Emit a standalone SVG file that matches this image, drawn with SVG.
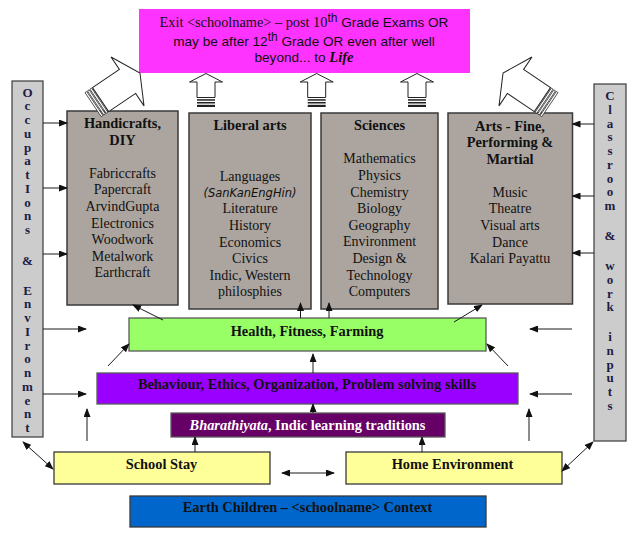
<svg xmlns="http://www.w3.org/2000/svg" xmlns:xlink="http://www.w3.org/1999/xlink" width="637" height="535" viewBox="0 0 637 535">
<style>
.box{stroke:#3a3a3a;stroke-width:1.5}
.gray{fill:#aca59f}
.side{fill:#cccccc;stroke:#3a3a3a;stroke-width:1.2}
.t{font-family:"Liberation Serif","Times New Roman",serif;font-size:14px;fill:#111;text-anchor:middle}
.h{font-family:"Liberation Serif","Times New Roman",serif;font-size:14.4px;font-weight:bold;fill:#111;text-anchor:middle}
.vt{font-family:"Liberation Serif","Times New Roman",serif;font-size:13px;font-weight:bold;fill:#1c1c45;text-anchor:middle}
.s{font-family:"Liberation Sans",Arial,sans-serif;font-size:13.6px}
.sup{font-family:"Liberation Sans",Arial,sans-serif;font-size:12px}
.c{stroke:#1a1a1a;stroke-width:1;fill:none}
.bk{fill:#fff;stroke:#222;stroke-width:1}
.st{fill:#fff;stroke:#222;stroke-width:0.7}
</style>
<defs>
<marker id="ah" markerUnits="userSpaceOnUse" markerWidth="9" markerHeight="7" refX="8" refY="3.5" orient="auto-start-reverse" viewBox="0 0 9 7">
<path d="M0,0 L9,3.5 L0,7 z" fill="#111"/>
</marker>
<g id="tilt">
<rect x="0.5" y="-14.5" width="2" height="29" class="st"/>
<rect x="3.5" y="-14.5" width="2" height="29" class="st"/>
<rect x="6.5" y="-14.5" width="2" height="29" class="st"/>
<polygon points="9.5,-14.5 42,-14.5 42,-29.5 57,0 42,29.5 42,14.5 9.5,14.5" class="bk"/>
</g>
<g id="up">
<polygon points="-9,97.5 -9,82 -16.5,82 0,73.5 16.5,82 9,82 9,97.5" class="bk"/>
<rect x="-9" y="99.2" width="18" height="1.5" fill="#222"/>
<rect x="-9" y="102" width="18" height="1.5" fill="#222"/>
<rect x="-9" y="104.8" width="18" height="2.2" fill="#222"/>
</g>
</defs>
<rect width="637" height="535" fill="#fff"/>

<g id="exit">
<rect x="139" y="9" width="331" height="64" fill="#ff33ff"/>
<text class="t" x="304" y="26.7" style="font-size:14.3px"><tspan>Exit &lt;schoolname&gt; – post 10</tspan><tspan class="sup" dy="-4.5">th</tspan><tspan class="s" dy="4.5"> Grade Exams OR</tspan></text>
<text class="t s" x="304" y="45.5"><tspan>may be after 12</tspan><tspan class="sup" dy="-4.5">th</tspan><tspan dy="4.5"> Grade OR even after well</tspan></text>
<text class="t" x="304" y="62"><tspan class="s">beyond... to </tspan><tspan font-weight="bold" font-style="italic" style="font-size:14.5px">Life</tspan></text>
</g>

<g id="occupations">
<rect x="12" y="81" width="31" height="356" class="side"/>
<text class="vt"><tspan x="27.5" y="96.5">O</tspan><tspan x="27.5" y="110.25">c</tspan><tspan x="27.5" y="124">c</tspan><tspan x="27.5" y="137.75">u</tspan><tspan x="27.5" y="151.5">p</tspan><tspan x="27.5" y="165.25">a</tspan><tspan x="27.5" y="179">t</tspan><tspan x="27.5" y="192.75">I</tspan><tspan x="27.5" y="206.5">o</tspan><tspan x="27.5" y="220.25">n</tspan><tspan x="27.5" y="234">s</tspan><tspan x="27.5" y="264.5">&amp;</tspan><tspan x="27.5" y="294.5">E</tspan><tspan x="27.5" y="308.25">n</tspan><tspan x="27.5" y="322">v</tspan><tspan x="27.5" y="335.75">I</tspan><tspan x="27.5" y="349.5">r</tspan><tspan x="27.5" y="363.25">o</tspan><tspan x="27.5" y="377">n</tspan><tspan x="27.5" y="390.75">m</tspan><tspan x="27.5" y="404.5">e</tspan><tspan x="27.5" y="418.25">n</tspan><tspan x="27.5" y="432">t</tspan></text>
</g>

<g id="classroom">
<rect x="594" y="84" width="32" height="357" class="side"/>
<text class="vt"><tspan x="610" y="100">C</tspan><tspan x="610" y="113.75">l</tspan><tspan x="610" y="127.5">a</tspan><tspan x="610" y="141.25">s</tspan><tspan x="610" y="155">s</tspan><tspan x="610" y="168.75">r</tspan><tspan x="610" y="182.5">o</tspan><tspan x="610" y="196.25">o</tspan><tspan x="610" y="210">m</tspan><tspan x="610" y="240">&amp;</tspan><tspan x="610" y="270">w</tspan><tspan x="610" y="283.75">o</tspan><tspan x="610" y="297.5">r</tspan><tspan x="610" y="311.25">k</tspan><tspan x="610" y="341">i</tspan><tspan x="610" y="354.75">n</tspan><tspan x="610" y="368.5">p</tspan><tspan x="610" y="382.25">u</tspan><tspan x="610" y="396">t</tspan><tspan x="610" y="409.75">s</tspan></text>
</g>

<g id="handicrafts">
<rect x="67" y="111" width="111" height="194" class="box gray"/>
<text class="h" x="122.5" y="128">Handicrafts,</text>
<text class="h" x="122.5" y="145">DIY</text>
<text class="t"><tspan x="122.5" y="177.7">Fabriccrafts</tspan><tspan x="122.5" y="194.3">Papercraft</tspan><tspan x="122.5" y="210.9">ArvindGupta</tspan><tspan x="122.5" y="227.5">Electronics</tspan><tspan x="122.5" y="244.1">Woodwork</tspan><tspan x="122.5" y="260.7">Metalwork</tspan><tspan x="122.5" y="277.3">Earthcraft</tspan></text>
</g>

<g id="liberal">
<rect x="189" y="113" width="122" height="196" class="box gray"/>
<text class="h" x="250" y="130">Liberal arts</text>
<text class="t"><tspan x="250" y="181">Languages</tspan></text>
<text x="250" y="196.7" text-anchor="middle" font-family="'DejaVu Sans',sans-serif" font-size="11.5" font-style="italic" fill="#111">(SanKanEngHin)</text>
<text class="t"><tspan x="250" y="213.3">Literature</tspan><tspan x="250" y="229.9">History</tspan><tspan x="250" y="246.5">Economics</tspan><tspan x="250" y="263.1">Civics</tspan><tspan x="250" y="279.7">Indic, Western</tspan><tspan x="250" y="296.3">philosphies</tspan></text>
</g>

<g id="sciences">
<rect x="321" y="113" width="117" height="196" class="box gray"/>
<text class="h" x="379.5" y="130">Sciences</text>
<text class="t"><tspan x="379.5" y="163.3">Mathematics</tspan><tspan x="379.5" y="179.9">Physics</tspan><tspan x="379.5" y="196.5">Chemistry</tspan><tspan x="379.5" y="213.1">Biology</tspan><tspan x="379.5" y="229.7">Geography</tspan><tspan x="379.5" y="246.3">Environment</tspan><tspan x="379.5" y="262.9">Design &amp;</tspan><tspan x="379.5" y="279.5">Technology</tspan><tspan x="379.5" y="296.1">Computers</tspan></text>
</g>

<g id="arts">
<rect x="448" y="113" width="124.5" height="191" class="box gray"/>
<text class="h"><tspan x="510" y="131">Arts - Fine,</tspan><tspan x="510" y="147.3">Performing &amp;</tspan><tspan x="510" y="163.6">Martial</tspan></text>
<text class="t"><tspan x="510" y="196.7">Music</tspan><tspan x="510" y="213.3">Theatre</tspan><tspan x="510" y="229.9">Visual arts</tspan><tspan x="510" y="246.5">Dance</tspan><tspan x="510" y="263.1">Kalari Payattu</tspan></text>
</g>

<g id="block-arrows">
<use xlink:href="#tilt" transform="translate(92.7,104.9) rotate(-34)"/>
<use xlink:href="#tilt" transform="translate(550.3,104.9) rotate(-146)"/>
<use xlink:href="#up" transform="translate(206,0)"/>
<use xlink:href="#up" transform="translate(316.7,0)"/>
<use xlink:href="#up" transform="translate(417,0)"/>
</g>

<g id="health">
<rect x="129" y="318" width="357" height="33" fill="#99ff66" stroke="#5a5a5a" stroke-width="1.3"/>
<text class="h" x="307" y="335.5">Health, Fitness, Farming</text>
</g>
<g id="behaviour">
<rect x="97" y="373" width="421" height="31" fill="#9900ff" stroke="#5a5a5a" stroke-width="1.3"/>
<text class="h" x="307" y="389">Behaviour, Ethics, Organization, Problem solving skills</text>
</g>
<g id="bharathiyata">
<rect x="171" y="413" width="274" height="24" fill="#660066" stroke="#5a5a5a" stroke-width="1.3"/>
<text class="h" x="307.5" y="430" style="fill:#fff"><tspan font-style="italic">Bharathiyata</tspan>, Indic learning traditions</text>
</g>
<g id="school">
<rect x="54" y="452" width="216" height="32" fill="#ffff99" stroke="#3a3a3a" stroke-width="1.3"/>
<text class="h" x="161.5" y="468.7">School Stay</text>
</g>
<g id="home">
<rect x="346" y="452" width="216" height="32" fill="#ffff99" stroke="#3a3a3a" stroke-width="1.3"/>
<text class="h" x="452.5" y="469">Home Environment</text>
</g>
<g id="earth">
<rect x="130" y="496" width="356" height="31" fill="#0066cc" stroke="#3a3a3a" stroke-width="1.3"/>
<text class="h" x="307.5" y="511.7">Earth Children – &lt;schoolname&gt; Context</text>
</g>

<g id="connectors" class="c" marker-end="url(#ah)">
<line x1="43" y1="123" x2="67" y2="123"/>
<line x1="43" y1="188" x2="67" y2="188"/>
<line x1="43" y1="254" x2="67" y2="254"/>
<line x1="43" y1="329" x2="86" y2="329"/>
<line x1="43" y1="394" x2="86" y2="394"/>
<line x1="594" y1="124" x2="572.5" y2="124"/>
<line x1="594" y1="196" x2="572.5" y2="196"/>
<line x1="594" y1="253" x2="572.5" y2="253"/>
<line x1="572" y1="329" x2="530" y2="329"/>
<line x1="572" y1="394" x2="530" y2="394"/>
<line x1="163" y1="320" x2="133" y2="305"/>
<line x1="300.5" y1="318" x2="300.5" y2="303"/>
<line x1="329" y1="318" x2="329" y2="303"/>
<line x1="454" y1="322" x2="482" y2="305"/>
<line x1="108" y1="366" x2="129" y2="344"/>
<line x1="508" y1="366" x2="487" y2="344"/>
<line x1="313" y1="373" x2="313" y2="354"/>
<line x1="313" y1="413" x2="313" y2="404"/>
<line x1="195" y1="452" x2="195" y2="437"/>
<line x1="422" y1="452" x2="422" y2="437"/>
<line x1="87" y1="441" x2="87" y2="409"/>
<line x1="529" y1="441" x2="529" y2="409"/>
<line x1="282" y1="473" x2="334" y2="473" marker-start="url(#ah)"/>
<line x1="23" y1="442" x2="53" y2="469" marker-start="url(#ah)"/>
<line x1="593" y1="442" x2="562" y2="471" marker-start="url(#ah)"/>
</g>
</svg>
